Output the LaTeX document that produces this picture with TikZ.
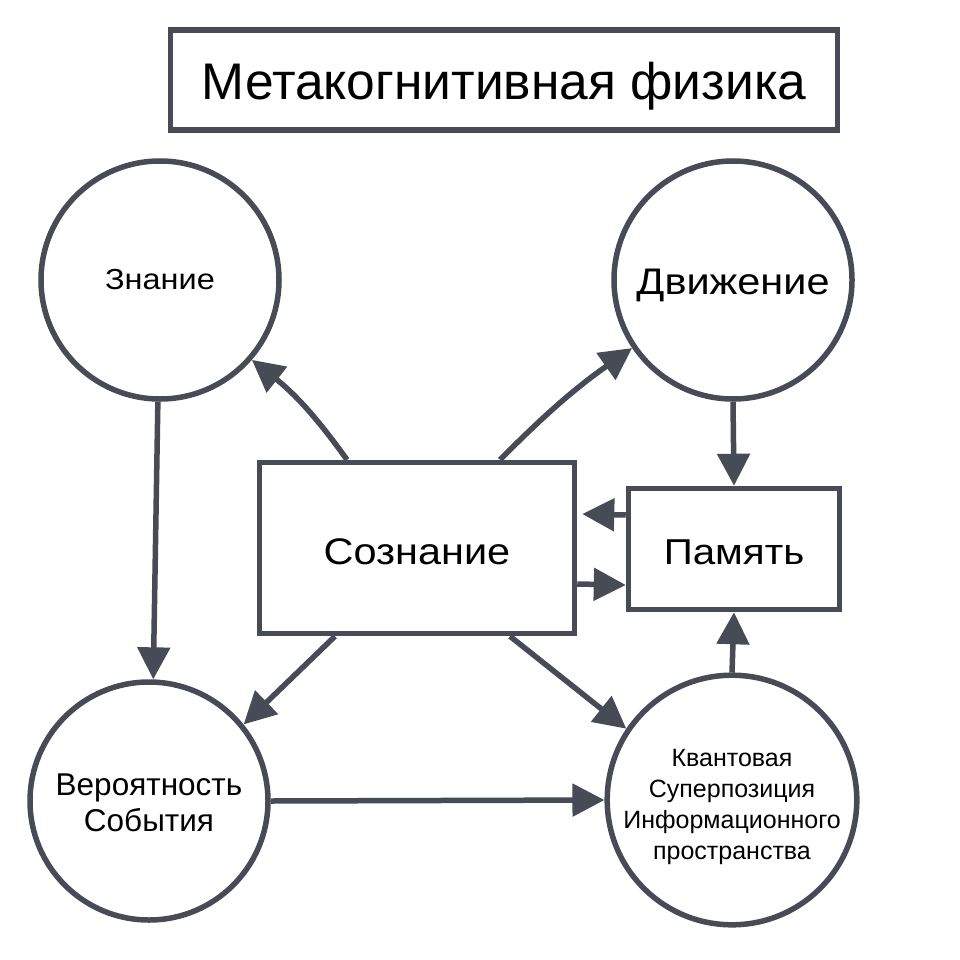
\documentclass[tikz,border=0pt]{standalone}
\usepackage{fontspec}
\setmainfont{Liberation Sans}
\newfontfamily\widefont[FakeStretch=1.12]{Liberation Sans}
\usetikzlibrary{arrows.meta}
\definecolor{ink}{HTML}{474B55}
\tikzset{
  every node/.style={text=black},
  bubble/.style={circle, draw=ink, line width=5.5pt, minimum size=238pt, inner sep=0pt, align=center},
  boxnode/.style={rectangle, draw=ink, line width=5.5pt, inner sep=0pt, align=center},
  link/.style={draw=ink, line width=5.5pt, -{Triangle[length=32pt,width=32pt]}},
}
\newcommand{\lowtext}[2]{\raisebox{-#1}[\height][\depth]{#2}}
\newcommand{\lines}[2]{\raisebox{-#1}[\height][\depth]{\begin{tabular}{@{}c@{}}#2\end{tabular}}}
\begin{document}
\begin{tikzpicture}[x=1pt,y=-1pt]
\useasboundingbox[fill=white] (0,0) rectangle (960,960);
\node[boxnode, minimum width=667pt, minimum height=100pt, font=\fontsize{51.5}{58}\selectfont] (title) at (504,80) {\lowtext{6pt}{Метакогнитивная физика}};
\node[bubble, font=\widefont\fontsize{29}{34}\selectfont] (zn) at (160,280) {Знание};
\node[bubble, font=\widefont\fontsize{37}{42}\selectfont] (dv) at (733,280) {\lowtext{5pt}{Движение}};
\node[bubble, font=\fontsize{31.5}{36}\selectfont] (ver) at (149,801) {\lines{5pt}{Вероятность\\События}};
\node[bubble, font=\fontsize{25}{31}\selectfont] (kv) at (732,800) {\lines{7pt}{Квантовая\\Суперпозиция\\Информационного\\пространства}};
\node[boxnode, minimum width=315pt, minimum height=171pt, font=\widefont\fontsize{37}{42}\selectfont] (soz) at (417,548) {\lowtext{4pt}{Сознание}};
\node[boxnode, minimum width=211pt, minimum height=121pt, font=\widefont\fontsize{36}{42}\selectfont] (pam) at (734,549) {\lowtext{3pt}{Память}};

\draw[link] ([xshift=-70pt]soz.north) to[bend right=8] (zn.-41);
\draw[link] ([xshift=83pt]soz.north) to[bend left=5] (dv.-146);
\draw[link] (dv.south) -- (pam.north);
\draw[link] ([yshift=34pt]pam.west) -- ([xshift=5pt,yshift=34pt]soz.east);
\draw[link] ([yshift=-36pt]soz.east) -- ([yshift=-36pt]pam.west);
\draw[link] (kv.north) -- (pam.south);
\draw[link] ([xshift=-82pt]soz.south) -- (ver.39);
\draw[link] ([xshift=93pt]soz.south) -- (kv.146);
\draw[link] (zn.-91.5) -- (ver.88);
\draw[link] (ver.east) -- (kv.west);
\end{tikzpicture}
\end{document}
